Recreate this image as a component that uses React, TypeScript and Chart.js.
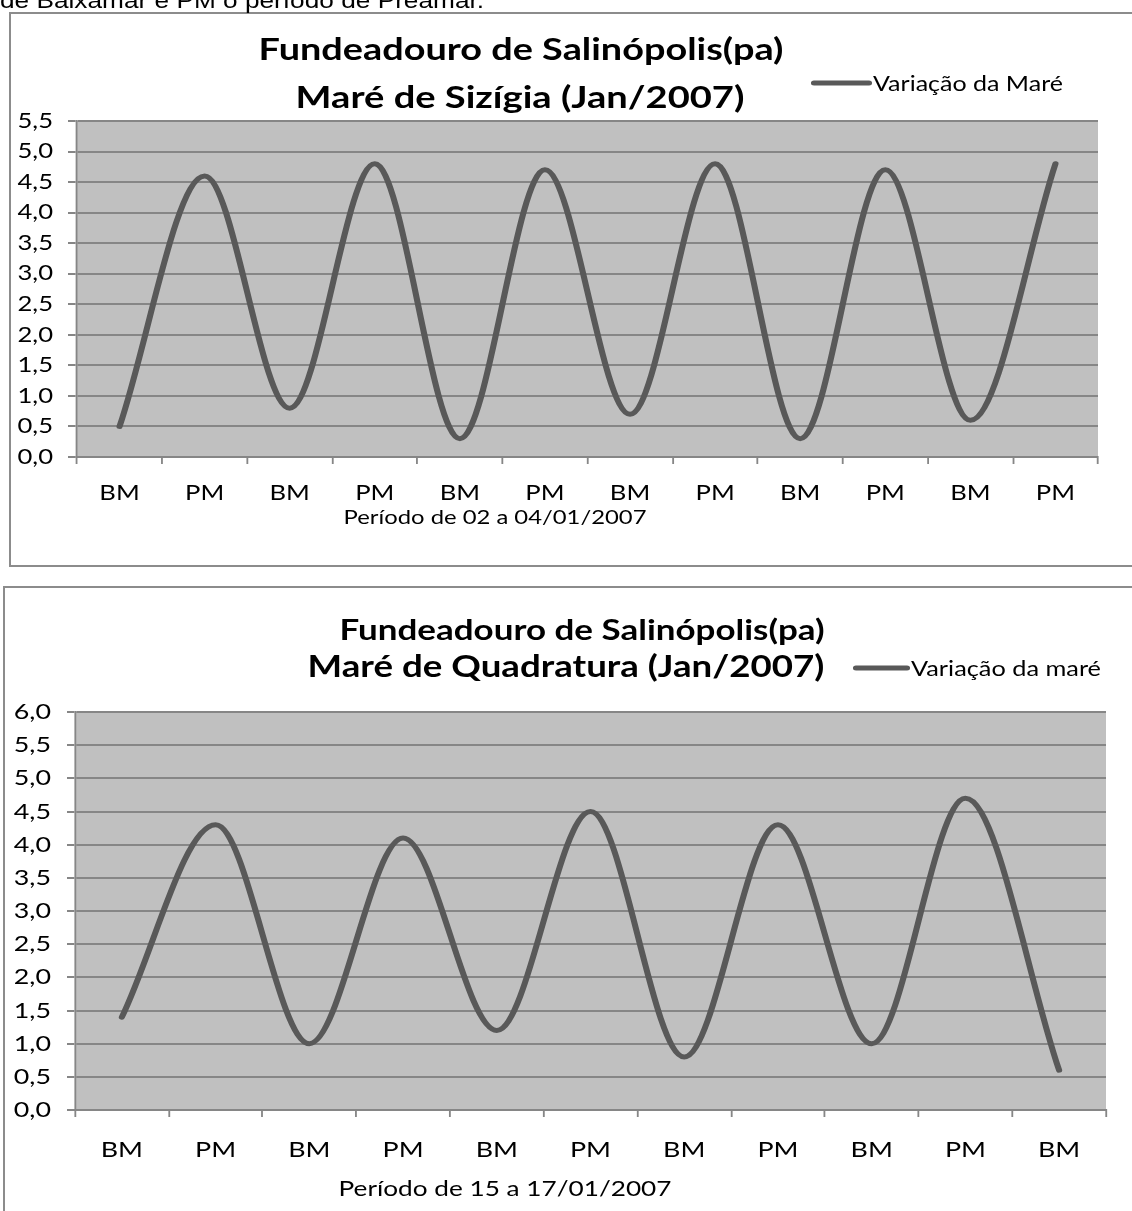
import React, { useEffect, useRef } from "react";
import { Chart, registerables } from "chart.js";

Chart.register(...registerables);

// ---------------- Data ----------------
const headerText = "de Baixamar e PM o período de Preamar.";

const sizigiaCategories = ["BM", "PM", "BM", "PM", "BM", "PM", "BM", "PM", "BM", "PM", "BM", "PM"];
const sizigiaHeights = [0.5, 4.6, 0.8, 4.8, 0.3, 4.7, 0.7, 4.8, 0.3, 4.7, 0.6, 4.8];
const sizigiaYMax = 5.5;
const sizigiaTitle = ["Fundeadouro de Salinópolis(pa)", "Maré de Sizígia (Jan/2007)"];
const sizigiaSeriesName = "Variação da Maré";
const sizigiaAxisTitle = "Período de 02 a 04/01/2007";

const quadraturaCategories = ["BM", "PM", "BM", "PM", "BM", "PM", "BM", "PM", "BM", "PM", "BM"];
const quadraturaHeights = [1.4, 4.3, 1.0, 4.1, 1.2, 4.5, 0.8, 4.3, 1.0, 4.7, 0.6];
const quadraturaYMax = 6.0;
const quadraturaTitle = ["Fundeadouro de Salinópolis(pa)", "Maré de Quadratura (Jan/2007)"];
const quadraturaSeriesName = "Variação da maré";
const quadraturaAxisTitle = "Período de 15 a 17/01/2007";

const yStep = 0.5;

// ---------------- Styles ----------------
const SX = 1.22; // horizontal stretch of the reference picture
const PAGE_W = 1132;
const LINE_COLOR = "#595959";
const GRID_COLOR = "#868686";
const PLOT_BG = "#C0C0C0";
const FAMILY = "Lato, 'Noto Sans', sans-serif";

type TextPos = { cx?: number; left?: number; base: number; width: number };
type PanelLayout = {
  top: number;
  height: number;
  box: { left: number; top: number; bottom: number };
  plot: { left: number; right: number; top: number; bottom: number };
  titlePos: TextPos[];
  legendLine: { x1: number; x2: number; y: number };
  legendText: TextPos;
  axisTitle: TextPos;
  tickFont: number;
  xTickPad: number;
  xTickLen: number;
  yTickPad: number;
  yTickLen: number;
};

const sizigiaLayout: PanelLayout = {
  top: 0,
  height: 575,
  box: { left: 10, top: 13, bottom: 566 },
  plot: { left: 77, right: 1098, top: 121, bottom: 457 },
  titlePos: [
    { cx: 521, base: 60, width: 525 },
    { cx: 520, base: 108, width: 449 },
  ],
  legendLine: { x1: 814, x2: 869, y: 83 },
  legendText: { left: 873, base: 91, width: 190 },
  axisTitle: { cx: 495, base: 524, width: 303 },
  tickFont: 21,
  xTickPad: 17,
  xTickLen: 7,
  yTickPad: 15,
  yTickLen: 9,
};

const quadraturaLayout: PanelLayout = {
  top: 575,
  height: 636,
  box: { left: 4, top: 587, bottom: 1260 },
  plot: { left: 75, right: 1106, top: 712, bottom: 1110 },
  titlePos: [
    { cx: 582, base: 640, width: 485 },
    { cx: 566, base: 677, width: 517 },
  ],
  legendLine: { x1: 856, x2: 907, y: 668 },
  legendText: { left: 911, base: 676, width: 190 },
  axisTitle: { cx: 505, base: 1196, width: 333 },
  tickFont: 22,
  xTickPad: 20,
  xTickLen: 7,
  yTickPad: 16,
  yTickLen: 8,
};

type PanelProps = {
  labels: string[];
  values: number[];
  yMax: number;
  title: string[];
  seriesName: string;
  axisTitle: string;
  layout: PanelLayout;
};

function TidePanel({ labels, values, yMax, title, seriesName, axisTitle, layout }: PanelProps) {
  const ref = useRef<HTMLCanvasElement>(null);

  useEffect(() => {
    const canvas = ref.current;
    if (!canvas) return;
    const L = layout;
    const lx = (x: number) => x / SX;
    const ly = (y: number) => y - L.top;

    const drawFitted = (ctx: CanvasRenderingContext2D, text: string, pos: TextPos, bold: boolean) => {
      const weight = bold ? "bold " : "";
      ctx.font = `${weight}100px ${FAMILY}`;
      const w100 = ctx.measureText(text).width;
      const size = (100 * (pos.width / SX)) / w100;
      ctx.font = `${weight}${size.toFixed(2)}px ${FAMILY}`;
      ctx.fillStyle = "#000";
      ctx.textBaseline = "alphabetic";
      if (pos.cx !== undefined) {
        ctx.textAlign = "center";
        ctx.fillText(text, lx(pos.cx), ly(pos.base));
      } else {
        ctx.textAlign = "left";
        ctx.fillText(text, lx(pos.left as number), ly(pos.base));
      }
    };

    const panelPlugin = {
      id: "tidePanel",
      beforeDraw(chart: any) {
        const ctx = chart.ctx as CanvasRenderingContext2D;
        ctx.save();
        ctx.setTransform(SX, 0, 0, 1, 0, 0);
        const a = chart.chartArea;
        ctx.fillStyle = PLOT_BG;
        ctx.fillRect(a.left, a.top, a.right - a.left, a.bottom - a.top);
      },
      afterDraw(chart: any) {
        const ctx = chart.ctx as CanvasRenderingContext2D;
        title.forEach((t, i) => drawFitted(ctx, t, L.titlePos[i], true));
        ctx.save();
        ctx.strokeStyle = LINE_COLOR;
        ctx.lineWidth = 5;
        ctx.lineCap = "round";
        ctx.beginPath();
        ctx.moveTo(lx(L.legendLine.x1), ly(L.legendLine.y));
        ctx.lineTo(lx(L.legendLine.x2), ly(L.legendLine.y));
        ctx.stroke();
        ctx.restore();
        drawFitted(ctx, seriesName, L.legendText, false);
        drawFitted(ctx, axisTitle, L.axisTitle, false);
        ctx.restore();
        // outer chart box (page coordinates)
        ctx.save();
        ctx.setTransform(1, 0, 0, 1, 0, 0);
        ctx.strokeStyle = "#8c8c8c";
        ctx.lineWidth = 2;
        ctx.strokeRect(L.box.left, ly(L.box.top), 2000, L.box.bottom - L.box.top);
        ctx.restore();
      },
    };

    const tickFont = { family: FAMILY, size: L.tickFont };

    const chart = new Chart(canvas, {
      type: "line",
      data: {
        labels,
        datasets: [
          {
            label: seriesName,
            data: values,
            borderColor: LINE_COLOR,
            backgroundColor: LINE_COLOR,
            borderWidth: 5,
            pointRadius: 0,
            pointHoverRadius: 0,
            cubicInterpolationMode: "monotone",
            fill: false,
            borderCapStyle: "round",
            borderJoinStyle: "round",
          },
        ],
      },
      options: {
        responsive: false,
        animation: false,
        devicePixelRatio: 1,
        events: [],
        layout: {
          padding: { left: 0, top: ly(L.plot.top), right: PAGE_W - lx(L.plot.right), bottom: 0 },
        },
        plugins: {
          legend: { display: false },
          title: { display: false },
          tooltip: { enabled: false },
        },
        scales: {
          x: {
            type: "category",
            offset: true,
            grid: {
              offset: true,
              drawOnChartArea: false,
              drawTicks: true,
              tickLength: L.xTickLen,
              color: GRID_COLOR,
              lineWidth: 1.5,
            },
            border: { display: true, color: GRID_COLOR, width: 2 },
            ticks: {
              color: "#000",
              font: tickFont,
              padding: L.xTickPad,
              maxRotation: 0,
              minRotation: 0,
              autoSkip: false,
            },
            afterFit: (s: any) => {
              s.height = L.height - ly(L.plot.bottom);
            },
          },
          y: {
            min: 0,
            max: yMax,
            grid: {
              color: GRID_COLOR,
              lineWidth: 2,
              drawTicks: true,
              tickLength: L.yTickLen / SX,
            },
            border: { display: true, color: GRID_COLOR, width: 1.5 },
            ticks: {
              stepSize: yStep,
              color: "#000",
              font: tickFont,
              padding: L.yTickPad / SX,
              callback: (v: any) => Number(v).toFixed(1).replace(".", ","),
            },
            afterFit: (s: any) => {
              s.width = lx(L.plot.left);
            },
          },
        },
      } as any,
      plugins: [panelPlugin],
    });

    return () => chart.destroy();
  }, [labels, values, yMax, title, seriesName, axisTitle, layout]);

  return (
    <canvas
      ref={ref}
      width={PAGE_W}
      height={layout.height}
      style={{ position: "absolute", left: 0, top: layout.top, display: "block" }}
    />
  );
}

export default function App() {
  return (
    <div
      style={{
        position: "absolute",
        left: 0,
        top: 0,
        width: PAGE_W,
        height: 1211,
        overflow: "hidden",
        background: "#fff",
      }}
    >
      <TidePanel
        labels={sizigiaCategories}
        values={sizigiaHeights}
        yMax={sizigiaYMax}
        title={sizigiaTitle}
        seriesName={sizigiaSeriesName}
        axisTitle={sizigiaAxisTitle}
        layout={sizigiaLayout}
      />
      <TidePanel
        labels={quadraturaCategories}
        values={quadraturaHeights}
        yMax={quadraturaYMax}
        title={quadraturaTitle}
        seriesName={quadraturaSeriesName}
        axisTitle={quadraturaAxisTitle}
        layout={quadraturaLayout}
      />
      <div
        style={{
          position: "absolute",
          left: 0,
          top: -10,
          font: "21.5px 'Liberation Sans', Arial, sans-serif",
          lineHeight: "22px",
          whiteSpace: "nowrap",
          color: "#000",
          transform: `scaleX(${SX})`,
          transformOrigin: "0 0",
        }}
      >
        {headerText}
      </div>
    </div>
  );
}
